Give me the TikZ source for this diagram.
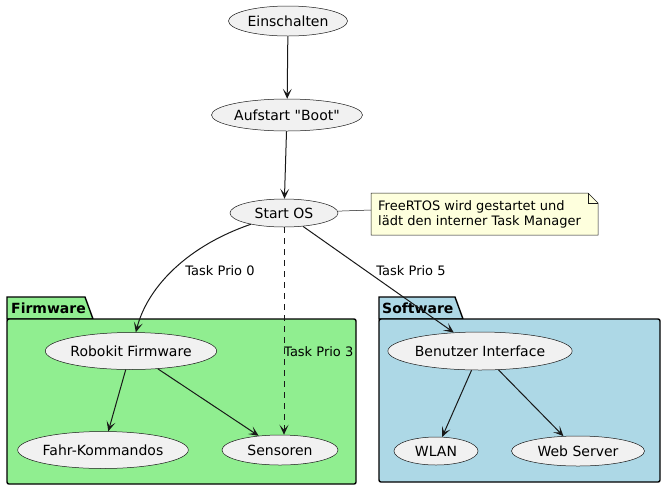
\documentclass[tikz,border=0pt]{standalone}
\usepackage{fontspec}
\setmainfont{DejaVu Sans}
\usetikzlibrary{shapes.geometric,arrows.meta}
\definecolor{ucfill}{HTML}{F1F1F1}
\definecolor{ucline}{HTML}{181818}
\definecolor{fwfill}{HTML}{90EE90}
\definecolor{swfill}{HTML}{ADD8E6}
\definecolor{notefill}{HTML}{FEFFDD}
\tikzset{
  uc/.style={ellipse, draw=ucline, line width=0.5pt, fill=ucfill, inner sep=0pt, font=\fontsize{14}{16}\selectfont},
  conn/.style={draw=ucline, line width=1pt, -{Stealth[length=10pt,width=9pt,inset=5pt]}},
  lbl/.style={font=\fontsize{13}{15}\selectfont, inner sep=0pt},
  pkg/.style={draw=black, line width=1.4pt, rounded corners=2pt},
  pkgtitle/.style={font=\bfseries\fontsize{14}{16}\selectfont, inner sep=0pt, anchor=west},
  thin/.style={draw=ucline, line width=0.5pt},
}
\begin{document}
\begin{tikzpicture}[x=1pt,y=-1pt]
\useasboundingbox (0,0) rectangle (666,491);
% packages
\filldraw[pkg, fill=fwfill, rounded corners=0pt] (7,319) -- (7,297) -- (85,297) -- (93,319) -- cycle;
\filldraw[pkg, fill=fwfill] (7,319) rectangle (356,484);
\node[pkgtitle] (fwt) at (11,308) {Firmware};
\filldraw[pkg, fill=swfill, rounded corners=0pt] (379,319) -- (379,297) -- (455,297) -- (463,319) -- cycle;
\filldraw[pkg, fill=swfill] (379,319) rectangle (660,482);
\node[pkgtitle] (swt) at (382,308) {Software};
% use cases
\node[uc, minimum width=119pt, minimum height=30pt] (ein) at (288,21) {Einschalten};
\node[uc, minimum width=151pt, minimum height=32pt] (auf) at (287,115) {Aufstart \textquotedbl Boot\textquotedbl};
\node[uc, minimum width=108pt, minimum height=28pt] (os) at (284,213) {Start OS};
\node[uc, minimum width=166pt, minimum height=37pt] (rf) at (131,351) {Robokit Firmware};
\node[uc, minimum width=166pt, minimum height=37pt] (fk) at (103,450) {Fahr-Kommandos};
\node[uc, minimum width=116pt, minimum height=30pt] (se) at (280,450) {Sensoren};
\node[uc, minimum width=170pt, minimum height=38pt] (bi) at (480,351) {Benutzer Interface};
\node[uc, minimum width=84pt, minimum height=28pt] (wl) at (436,451) {WLAN};
\node[uc, minimum width=133pt, minimum height=30pt] (ws) at (578,451) {Web Server};
% note
\coordinate (nnw) at (371,193);
\coordinate (nfold) at (588,193);
\coordinate (nfold2) at (598,203);
\coordinate (nse) at (598,235);
\coordinate (nsw) at (371,235);
\coordinate (nl) at (371,210);
\filldraw[thin, fill=notefill] (nnw) -- (nfold) -- (nfold2) -- (nse) -- (nsw) -- cycle;
\draw[thin] (nfold) -- (nfold |- nfold2) -- (nfold2);
\node[lbl, align=left, anchor=west] (note) at (378,214)
  {FreeRTOS wird gestartet und\\lädt den interner Task Manager};
\draw[thin] (os) -- (nl);
% connectors
\draw[conn] (ein) -- (auf);
\draw[conn] (auf) -- (os);
\draw[conn] (os) .. controls (190,245) and (148,285) .. (rf);
\draw[conn, dashed, dash pattern=on 6pt off 5pt] (os.south) -- (os.south |- se.north);
\draw[conn] (os) -- (bi);
\draw[conn] (rf) -- (fk);
\draw[conn] (rf) -- (se);
\draw[conn] (bi) -- (wl);
\draw[conn] (bi) -- (ws);
% labels
\node[lbl] (l0) at (220,271) {Task Prio 0};
\node[lbl, anchor=west] (l3) at (284,352) {Task Prio 3};
\node[lbl] (l5) at (411,271) {Task Prio 5};
\end{tikzpicture}
\end{document}
